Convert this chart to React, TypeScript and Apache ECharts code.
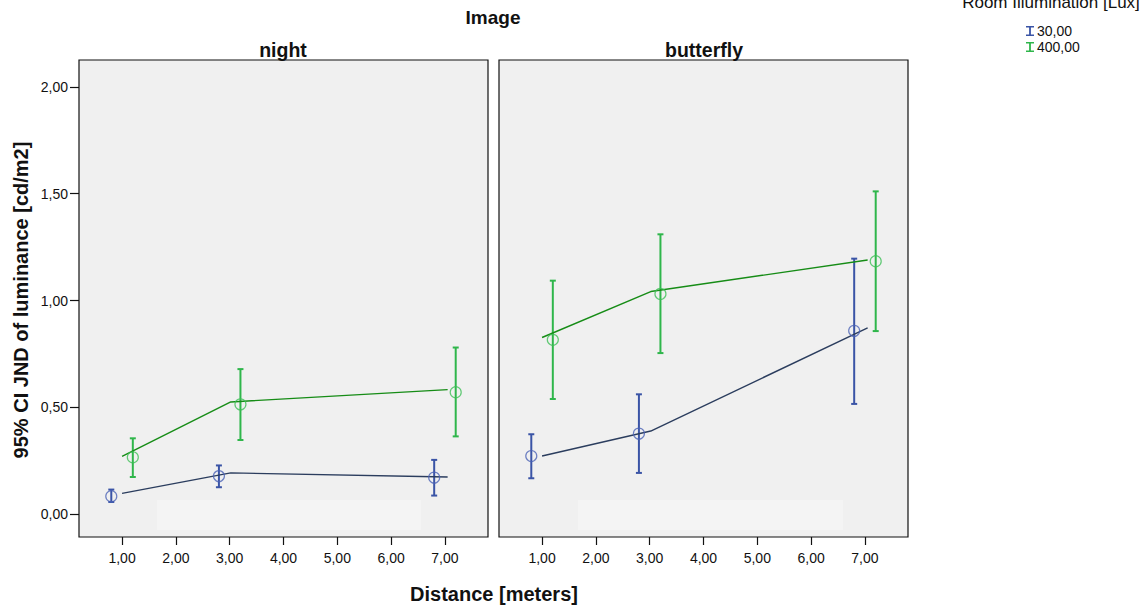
import React, { useEffect, useRef } from 'react';
import * as echarts from 'echarts';

const panelTitles = ['night', 'butterfly'];
const groupNames = ['30,00', '400,00'];
const yTickValues = [0, 0.5, 1, 1.5, 2];
const xTickValues = [1, 2, 3, 4, 5, 6, 7];

// x positions of means (clustered around distances 1, 3, 7)
const meanX30 = [0.8, 2.8, 6.8];
const meanX400 = [1.2, 3.2, 7.2];
// x positions of the connecting lines
const lineX = [1.0, 3.02, 7.05];

// night panel
const night30Mean = [0.084, 0.178, 0.171];
const night30Low = [0.057, 0.126, 0.087];
const night30High = [0.115, 0.228, 0.254];
const night30Line = [0.097, 0.193, 0.174];
const night400Mean = [0.266, 0.514, 0.571];
const night400Low = [0.174, 0.347, 0.364];
const night400High = [0.355, 0.679, 0.78];
const night400Line = [0.271, 0.525, 0.583];

// butterfly panel
const butterfly30Mean = [0.272, 0.377, 0.858];
const butterfly30Low = [0.168, 0.193, 0.516];
const butterfly30High = [0.374, 0.561, 1.196];
const butterfly30Line = [0.272, 0.389, 0.872];
const butterfly400Mean = [0.816, 1.031, 1.184];
const butterfly400Low = [0.539, 0.754, 0.857];
const butterfly400High = [1.093, 1.31, 1.511];
const butterfly400Line = [0.827, 1.042, 1.19];

const FONT = "'Liberation Sans', Arial, Helvetica, sans-serif";
const BAR30 = '#3a54a6';
const BAR400 = '#2fb64b';
const CIRC30 = '#4a62b5';
const CIRC400 = '#3cbf55';
const LINE30 = '#2b3d5e';
const LINE400 = '#168c16';

const fmt = (v: number) => v.toFixed(2).replace('.', ',');

function makeErrorSeries(name: string, idx: number, xs: number[], lo: number[], hi: number[], color: string) {
  return {
    type: 'custom',
    name,
    xAxisIndex: idx,
    yAxisIndex: idx,
    itemStyle: { color },
    z: 2,
    encode: { x: 0, y: [1, 2] },
    data: xs.map((x, i) => [x, lo[i], hi[i]]),
    renderItem: (params: any, api: any) => {
      const x = api.value(0);
      const pLo = api.coord([x, api.value(1)]);
      const pHi = api.coord([x, api.value(2)]);
      const hw = 3;
      const style = { stroke: color, lineWidth: 2, fill: 'none' };
      return {
        type: 'group',
        children: [
          { type: 'line', shape: { x1: pLo[0], y1: pLo[1], x2: pHi[0], y2: pHi[1] }, style },
          { type: 'line', shape: { x1: pLo[0] - hw, y1: pLo[1], x2: pLo[0] + hw, y2: pLo[1] }, style },
          { type: 'line', shape: { x1: pHi[0] - hw, y1: pHi[1], x2: pHi[0] + hw, y2: pHi[1] }, style },
        ],
      };
    },
  };
}

function makeLine(idx: number, ys: number[], color: string) {
  return {
    type: 'line',
    xAxisIndex: idx,
    yAxisIndex: idx,
    symbol: 'none',
    z: 3,
    lineStyle: { color, width: 1.4 },
    data: lineX.map((x, i) => [x, ys[i]]),
  };
}

function makeMeans(idx: number, xs: number[], ys: number[], color: string) {
  return {
    type: 'scatter',
    xAxisIndex: idx,
    yAxisIndex: idx,
    symbol: 'circle',
    symbolSize: 11,
    z: 4,
    itemStyle: { color: 'rgba(0,0,0,0)', borderColor: color, borderWidth: 1.2 },
    data: xs.map((x, i) => [x, ys[i]]),
  };
}

export default function App() {
  const ref = useRef<HTMLDivElement>(null);
  useEffect(() => {
    if (!ref.current) return;
    const chart = echarts.init(ref.current, undefined, { renderer: 'svg' });
    const grids = [
      { left: 79, top: 60, width: 409, height: 477 },
      { left: 499, top: 60, width: 409, height: 477 },
    ].map((g) => ({
      ...g,
      show: true,
      backgroundColor: '#f0f0f0',
      borderColor: '#111',
      borderWidth: 1.2,
      containLabel: false,
    }));
    const xAxes = [0, 1].map((i) => ({
      type: 'value',
      gridIndex: i,
      position: 'bottom',
      min: 0.2,
      max: 7.8,
      splitLine: { show: false },
      axisLine: { show: false, onZero: false },
      axisTick: { show: true, length: 8, inside: false, customValues: xTickValues, lineStyle: { color: '#111', width: 1.2 } },
      axisLabel: {
        show: true,
        customValues: xTickValues,
        formatter: fmt,
        margin: 14,
        color: '#111',
        fontSize: 14,
        fontFamily: FONT,
      },
    }));
    const yAxes = [0, 1].map((i) => ({
      type: 'value',
      gridIndex: i,
      position: 'left',
      min: -0.107,
      max: 2.126,
      splitLine: { show: false },
      axisLine: { show: false, onZero: false },
      axisTick: { show: i === 0, length: 9, inside: false, customValues: yTickValues, lineStyle: { color: '#111', width: 1.2 } },
      axisLabel: {
        show: i === 0,
        customValues: yTickValues,
        formatter: fmt,
        margin: 11,
        color: '#111',
        fontSize: 14,
        fontFamily: FONT,
      },
    }));
    const series: any[] = [
      makeErrorSeries(groupNames[0], 0, meanX30, night30Low, night30High, BAR30),
      makeErrorSeries(groupNames[1], 0, meanX400, night400Low, night400High, BAR400),
      makeLine(0, night30Line, LINE30),
      makeLine(0, night400Line, LINE400),
      makeMeans(0, meanX30, night30Mean, CIRC30),
      makeMeans(0, meanX400, night400Mean, CIRC400),
      makeErrorSeries(groupNames[0], 1, meanX30, butterfly30Low, butterfly30High, BAR30),
      makeErrorSeries(groupNames[1], 1, meanX400, butterfly400Low, butterfly400High, BAR400),
      makeLine(1, butterfly30Line, LINE30),
      makeLine(1, butterfly400Line, LINE400),
      makeMeans(1, meanX30, butterfly30Mean, CIRC30),
      makeMeans(1, meanX400, butterfly400Mean, CIRC400),
    ];
    const option: any = {
      animation: false,
      backgroundColor: '#ffffff',
      grid: grids,
      xAxis: xAxes,
      yAxis: yAxes,
      series,
      legend: {
        data: groupNames,
        orient: 'vertical',
        left: 1021,
        top: 19,
        itemWidth: 8,
        itemHeight: 10,
        itemGap: 2,
        icon: 'path://M0,0 L8,0 L8,1.6 L4.9,1.6 L4.9,8.4 L8,8.4 L8,10 L0,10 L0,8.4 L3.1,8.4 L3.1,1.6 L0,1.6 Z',
        textStyle: { color: '#111', fontSize: 14, fontFamily: FONT, padding: [0, 0, 0, -2] },
        selectedMode: false,
      },
      graphic: [
        { type: 'rect', silent: true, z: 0, shape: { x: 157, y: 500, width: 264, height: 30 }, style: { fill: '#f4f4f4' } },
        { type: 'rect', silent: true, z: 0, shape: { x: 578, y: 500, width: 265, height: 30 }, style: { fill: '#f4f4f4' } },
        { type: 'text', x: 493, y: 17, style: { text: 'Image', font: `bold 19px ${FONT}`, fill: '#111', align: 'center', verticalAlign: 'middle' } },
        { type: 'text', x: 283, y: 50, style: { text: panelTitles[0], font: `bold 19.5px ${FONT}`, fill: '#111', align: 'center', verticalAlign: 'middle' } },
        { type: 'text', x: 704, y: 50, style: { text: panelTitles[1], font: `bold 19.5px ${FONT}`, fill: '#111', align: 'center', verticalAlign: 'middle' } },
        { type: 'text', x: 494, y: 594, style: { text: 'Distance [meters]', font: `bold 20px ${FONT}`, fill: '#111', align: 'center', verticalAlign: 'middle' } },
        { type: 'text', x: 21, y: 300, rotation: Math.PI / 2, style: { text: '95% CI JND of luminance [cd/m2]', font: `bold 20px ${FONT}`, fill: '#111', align: 'center', verticalAlign: 'middle' } },
        { type: 'text', x: 1051, y: 2, style: { text: 'Room Illumination [Lux]', font: `17px ${FONT}`, fill: '#111', align: 'center', verticalAlign: 'middle' } },
      ],
    };
    chart.setOption(option);
    return () => chart.dispose();
  }, []);
  return <div ref={ref} style={{ position: 'absolute', left: 0, top: 0, width: 1147, height: 609 }} />;
}
